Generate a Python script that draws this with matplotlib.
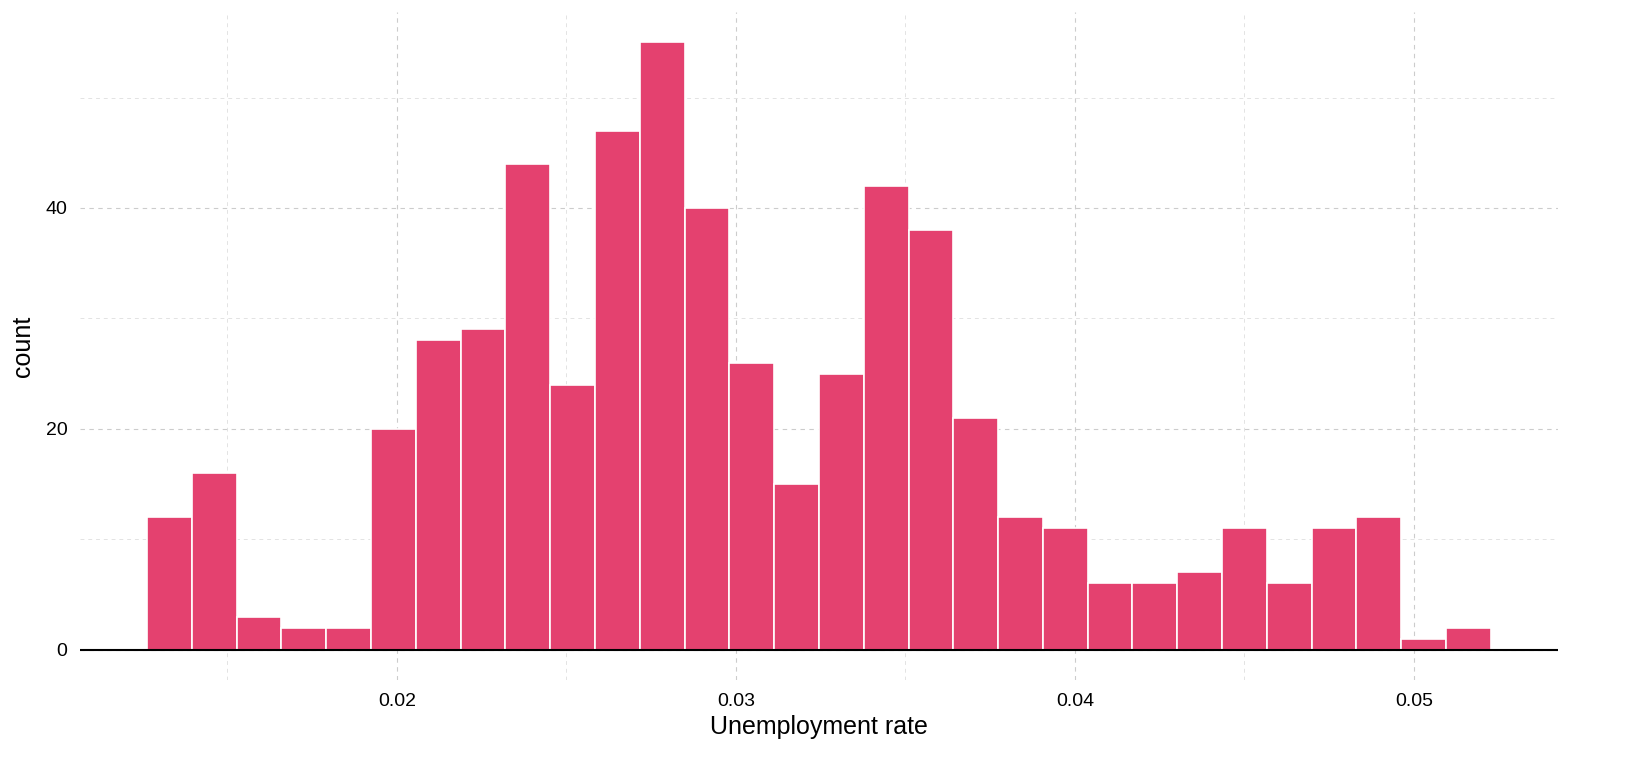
import matplotlib
matplotlib.use("Agg")
import matplotlib.pyplot as plt
import numpy as np

bin_start = 0.012625
bin_width = 0.0013215
counts = [12, 16, 3, 2, 2, 20, 28, 29, 44, 24, 47, 55, 40, 26, 15, 25, 42, 38, 21, 12, 11, 6, 6, 7, 11, 6, 11, 12, 1, 2]
xticks = [0.02, 0.03, 0.04, 0.05]
yticks = [0, 20, 40]

plt.rcParams['font.family'] = ['Liberation Sans', 'DejaVu Sans']
fig = plt.figure(figsize=(16.39, 7.78), dpi=100)
ax = fig.add_axes([80/1639, 1-680/778, 1478/1639, 668/778])
lefts = bin_start + bin_width*np.arange(len(counts))
ax.bar(lefts, counts, width=bin_width, align='edge', color='#E4416F', edgecolor='white', linewidth=1.2, zorder=2)
ax.set_xlim(0.01065, 0.05425)
ax.set_ylim(-2.75, 57.75)
ax.set_xticks(xticks)
ax.set_xticklabels(['0.02', '0.03', '0.04', '0.05'])
ax.set_yticks(yticks)
ax.set_xticks([0.015, 0.025, 0.035, 0.045], minor=True)
ax.set_yticks([10, 30, 50], minor=True)
ax.grid(True, which='major', color='#cccccc', linestyle=(0, (4, 4)), linewidth=0.8, zorder=0)
ax.grid(True, which='minor', color='#e3e3e3', linestyle=(0, (4, 4)), linewidth=0.7, zorder=0)
for s in ax.spines.values():
    s.set_visible(False)
ax.axhline(0, color='black', linewidth=1.5, zorder=3)
ax.tick_params(which='both', length=0, labelsize=14, colors='black', pad=9)
ax.set_xlabel('Unemployment rate', fontsize=18, labelpad=4)
ax.set_ylabel('count', fontsize=18, labelpad=8)
fig.savefig('out.png', dpi=100)
